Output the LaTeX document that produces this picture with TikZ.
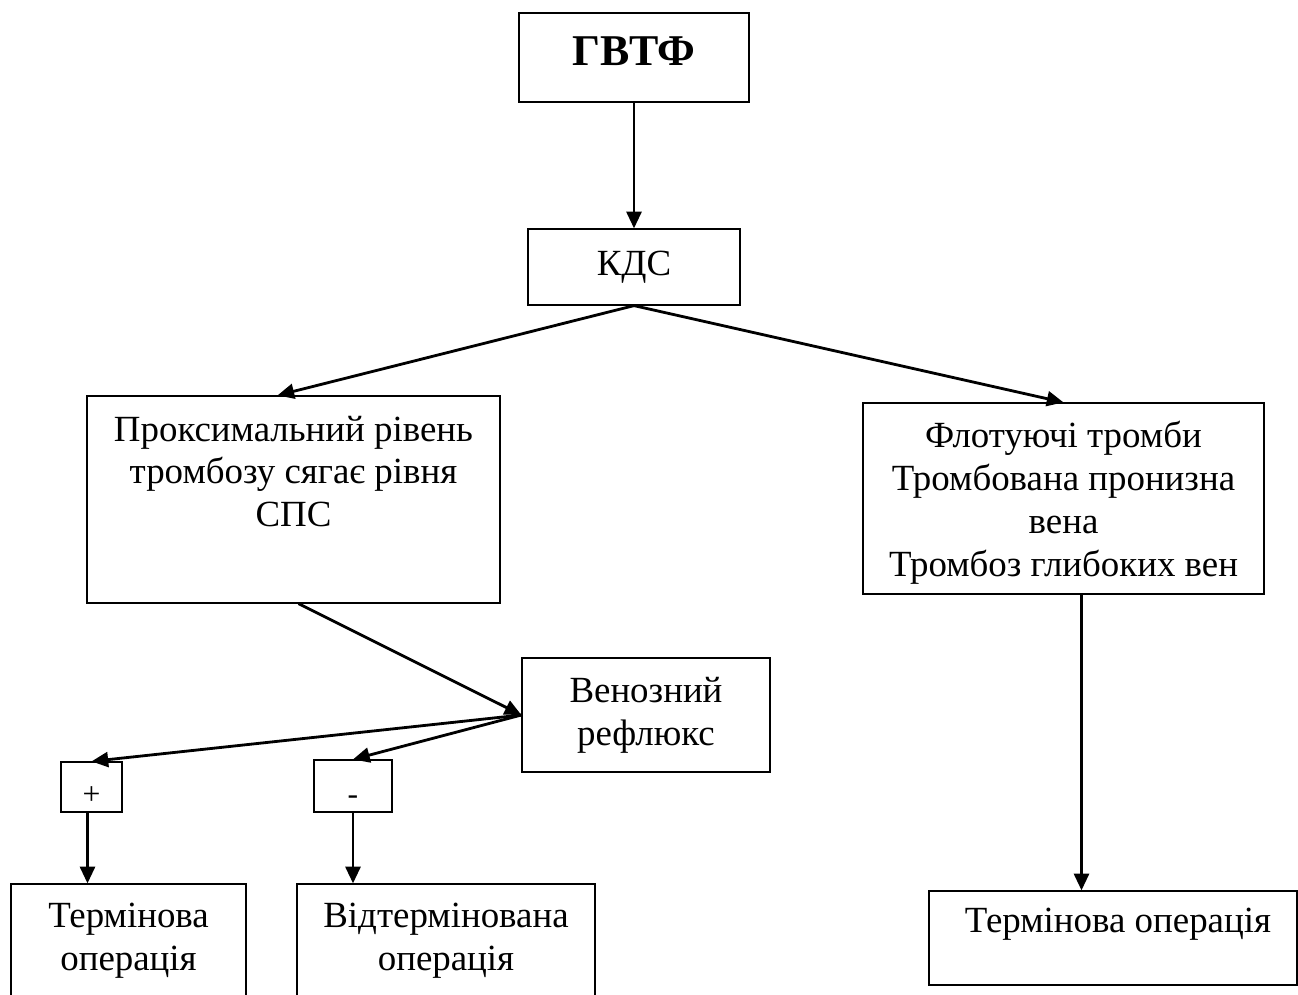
\documentclass[tikz,border=0pt]{standalone}
\usepackage{fontspec}
\setmainfont{Liberation Serif}
\usetikzlibrary{arrows.meta,fit,calc}

\begin{document}
\begin{tikzpicture}[x=0.02cm,y=-0.02cm,
	box/.style={draw,line width=0.7pt,inner sep=0pt},
	txt/.style={font=\fontsize{21}{24}\selectfont,align=center,inner sep=0pt,anchor=base},
	arr/.style={line width=1.6pt,-{Triangle[length=9.5pt,width=8.5pt]}}]
	\useasboundingbox (0,0) rectangle (1298,994);
	\clip (0,0) rectangle (1298,994);
	% boxes
	\node[box,fit={(519,13) (749,102)}] (gvtf) {};
	\node[box,fit={(528,229) (740,305)}] (kds) {};
	\node[box,fit={(87,396) (500,603)}] (prox) {};
	\node[box,fit={(863,403) (1264,594)}] (flot) {};
	\node[box,fit={(522,658) (770,772)}] (ven) {};
	\node[box,fit={(61,762) (122,812)}] (plus) {};
	\node[box,fit={(314,760) (392,812)}] (minus) {};
	\node[box,fit={(11,884) (246,1010)}] (term1) {};
	\node[box,fit={(297,884) (595,1010)}] (vidterm) {};
	\node[box,fit={(929,891) (1297,985)}] (term2) {};
	% texts (base = last line)
	\node[txt,font=\fontsize{25}{30}\selectfont\bfseries] (gvtft) at (634,65) {ГВТФ};
	\node[txt] (kdst) at (634,275) {КДС};
	\node[txt] (proxt) at (293.5,526) {Проксимальний рівень\\тромбозу сягає рівня\\СПС};
	\node[txt,font=\fontsize{21}{24.4}\selectfont] (flott) at (1063.5,576) {Флотуючі тромби\\Тромбована пронизна\\вена\\Тромбоз глибоких вен};
	\node[txt] (vent) at (646,745) {Венозний\\рефлюкс};
	\node[txt,font=\fontsize{18}{22}\selectfont] (plust) at (91.5,804) {+};
	\node[txt,font=\fontsize{18}{22}\selectfont] (minust) at (353,804) {-};
	\node[txt] (term1t) at (128.5,970) {Термінова\\операція};
	\node[txt] (vidtermt) at (446,970) {Відтермінована\\операція};
	\node[txt] (term2t) at (1118,932) {Термінова операція};
	% arrows
	\coordinate (proxin) at ($(prox.north)+(-16,0)$);
	\coordinate (proxout) at ($(prox.south)+(5,0)$);
	\coordinate (plusout) at ($(plus.south)+(-4,0)$);
	\coordinate (flotout) at ($(flot.south)+(18,0)$);
	\draw[arr] (gvtf) -- (kds);
	\draw[arr] (kds.south) -- (proxin);
	\draw[arr] (kds.south) -- (flot.north);
	\draw[arr] (proxout) -- (ven.west);
	\draw[arr] (ven.west) -- (plus.north);
	\draw[arr] (ven.west) -- (minus.north);
	\draw[arr] (plusout) -- (plusout |- term1.north);
	\draw[arr] (minus.south) -- (minus.south |- vidterm.north);
	\draw[arr] (flotout) -- (flotout |- term2.north);
\end{tikzpicture}
\end{document}
